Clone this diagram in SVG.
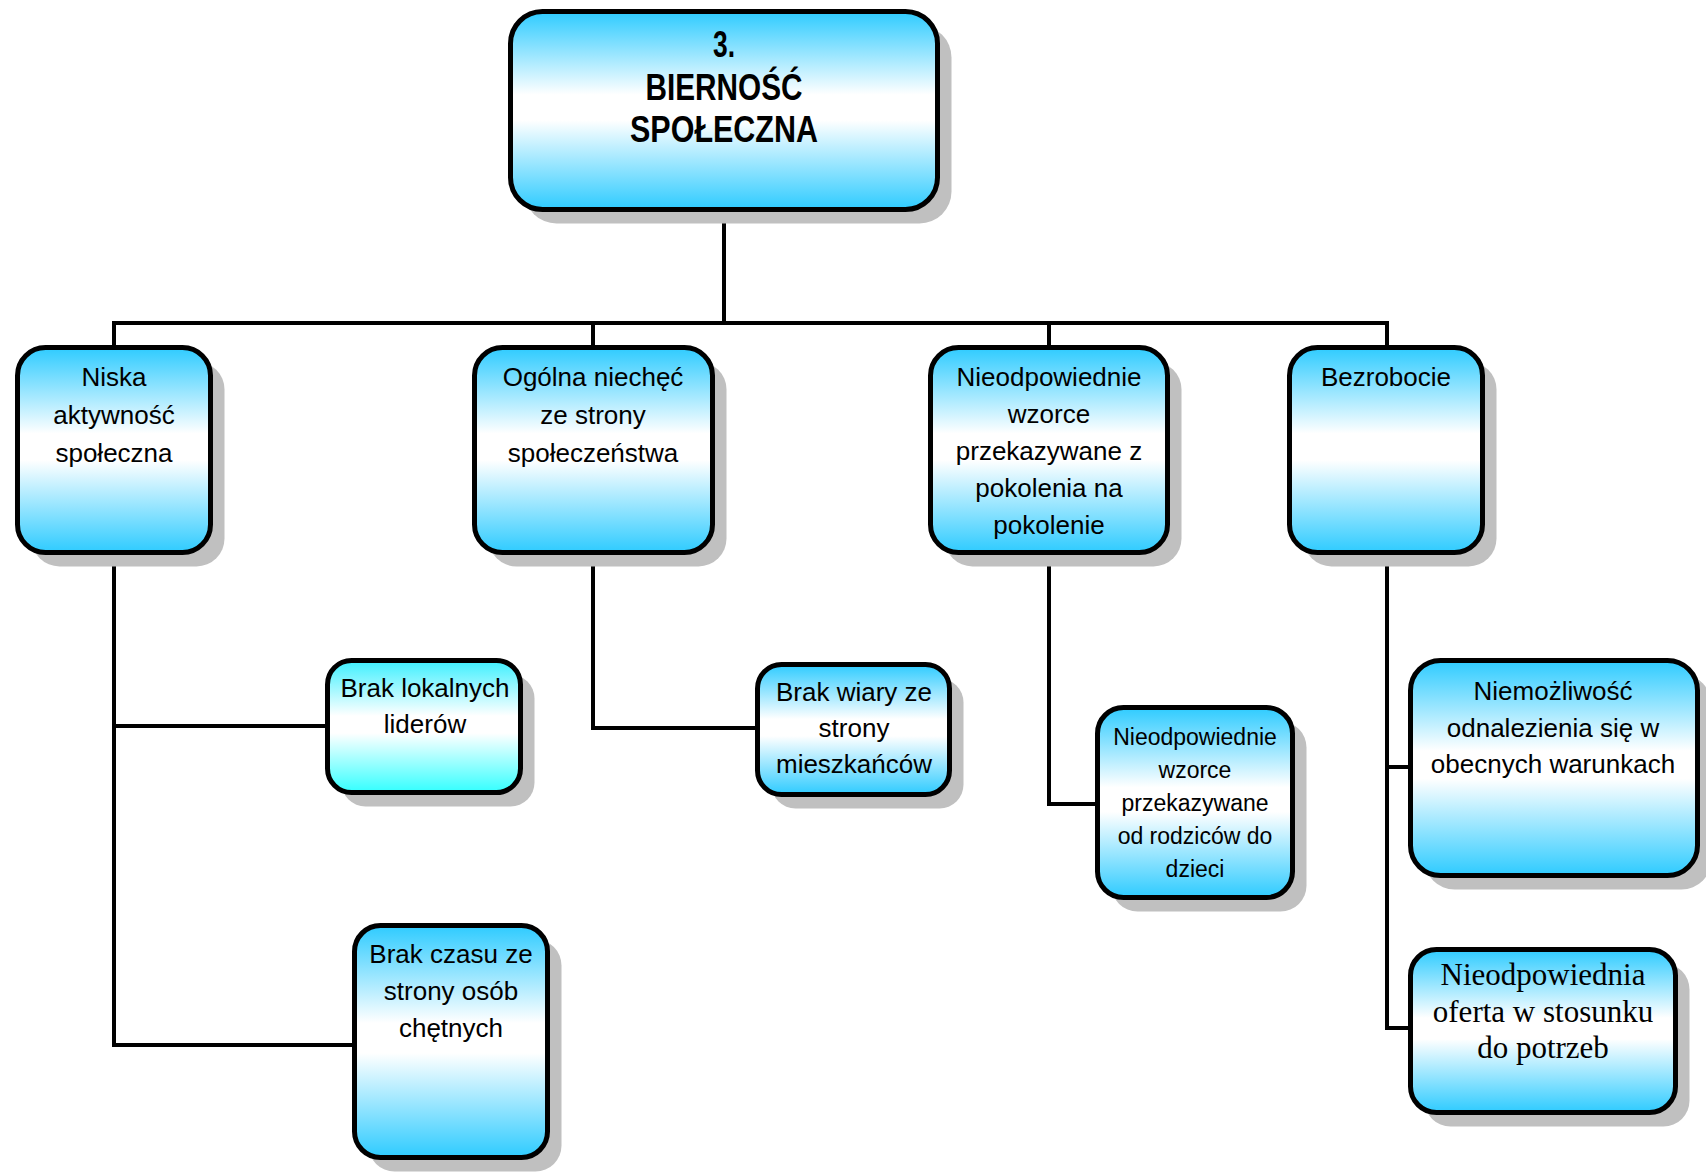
<svg xmlns="http://www.w3.org/2000/svg" width="1706" height="1176" viewBox="0 0 1706 1176">
<defs>
<linearGradient id="g" x1="0" y1="0" x2="0" y2="1">
<stop offset="0" stop-color="#2ecbff"/>
<stop offset="0.42" stop-color="#ffffff"/>
<stop offset="0.55" stop-color="#ffffff"/>
<stop offset="1" stop-color="#2ecbff"/>
</linearGradient>
<linearGradient id="ga" x1="0" y1="0" x2="0" y2="1">
<stop offset="0" stop-color="#3ef0ff"/>
<stop offset="0.42" stop-color="#ffffff"/>
<stop offset="0.55" stop-color="#ffffff"/>
<stop offset="1" stop-color="#33ffff"/>
</linearGradient>
</defs>
<style>
.box{fill:url(#g);stroke:#000;stroke-width:5}
.boxa{fill:url(#ga);stroke:#000;stroke-width:5}
.sh{fill:#c0c0c0}
.t{font-family:"Liberation Sans",Arial,sans-serif;font-size:26px;fill:#000;text-anchor:middle}
.ts{font-family:"Liberation Sans",Arial,sans-serif;font-size:23px;fill:#000;text-anchor:middle}
.tb{font-family:"Liberation Sans",Arial,sans-serif;font-size:36px;font-weight:bold;fill:#000;text-anchor:middle}
.tr{font-family:"Liberation Serif","Times New Roman",serif;font-size:31px;fill:#000;text-anchor:middle}
.c{fill:none;stroke:#000;stroke-width:4}
</style>
<rect width="1706" height="1176" fill="#fff"/>
<g id="connectors">
<path class="c" d="M724 212 V323"/>
<path class="c" d="M114 345 V323 H1387 V345"/>
<path class="c" d="M593 323 V345 M1049 323 V345"/>
<path class="c" d="M114 555 V1045 H354 M114 726 H327"/>
<path class="c" d="M593 555 V728 H757"/>
<path class="c" d="M1049 555 V804 H1097"/>
<path class="c" d="M1387 555 V1028 H1410 M1387 767 H1410"/>
</g>
<g id="n-main">
<rect class="sh" x="524.5" y="25.5" width="427" height="198" rx="32"/>
<rect class="box" x="510.5" y="11.5" width="427" height="198" rx="32"/>
<text class="tb" x="724" y="57" textLength="22" lengthAdjust="spacingAndGlyphs">3.</text>
<text class="tb" x="724" y="100" textLength="157" lengthAdjust="spacingAndGlyphs">BIERNOŚĆ</text>
<text class="tb" x="724" y="142" textLength="188" lengthAdjust="spacingAndGlyphs">SPOŁECZNA</text>
</g>
<g id="n-niska">
<rect class="sh" x="31.5" y="361.5" width="193" height="205" rx="28"/>
<rect class="box" x="17.5" y="347.5" width="193" height="205" rx="28"/>
<text class="t" x="114" y="386">Niska</text>
<text class="t" x="114" y="424">aktywność</text>
<text class="t" x="114" y="462">społeczna</text>
</g>
<g id="n-ogolna">
<rect class="sh" x="488.5" y="361.5" width="238" height="205" rx="28"/>
<rect class="box" x="474.5" y="347.5" width="238" height="205" rx="28"/>
<text class="t" x="593" y="386">Ogólna niechęć</text>
<text class="t" x="593" y="424">ze strony</text>
<text class="t" x="593" y="462">społeczeństwa</text>
</g>
<g id="n-wzorce">
<rect class="sh" x="944.5" y="361.5" width="237" height="205" rx="28"/>
<rect class="box" x="930.5" y="347.5" width="237" height="205" rx="28"/>
<text class="t" x="1049" y="386">Nieodpowiednie</text>
<text class="t" x="1049" y="423">wzorce</text>
<text class="t" x="1049" y="460">przekazywane z</text>
<text class="t" x="1049" y="497">pokolenia na</text>
<text class="t" x="1049" y="534">pokolenie</text>
</g>
<g id="n-bezrobocie">
<rect class="sh" x="1303.5" y="361.5" width="193" height="205" rx="28"/>
<rect class="box" x="1289.5" y="347.5" width="193" height="205" rx="28"/>
<text class="t" x="1386" y="386">Bezrobocie</text>
</g>
<g id="n-liderow">
<rect class="sh" x="341.5" y="674.5" width="193" height="132" rx="24"/>
<rect class="boxa" x="327.5" y="660.5" width="193" height="132" rx="24"/>
<text class="t" x="425" y="697">Brak lokalnych</text>
<text class="t" x="425" y="733">liderów</text>
</g>
<g id="n-czasu">
<rect class="sh" x="368.5" y="939.5" width="193" height="232" rx="26"/>
<rect class="box" x="354.5" y="925.5" width="193" height="232" rx="26"/>
<text class="t" x="451" y="963">Brak czasu ze</text>
<text class="t" x="451" y="1000">strony osób</text>
<text class="t" x="451" y="1037">chętnych</text>
</g>
<g id="n-wiary">
<rect class="sh" x="771.5" y="678.5" width="192" height="130" rx="24"/>
<rect class="box" x="757.5" y="664.5" width="192" height="130" rx="24"/>
<text class="t" x="854" y="701">Brak wiary ze</text>
<text class="t" x="854" y="737">strony</text>
<text class="t" x="854" y="773">mieszkańców</text>
</g>
<g id="n-rodzicow">
<rect class="sh" x="1111.5" y="721.5" width="195" height="190" rx="26"/>
<rect class="box" x="1097.5" y="707.5" width="195" height="190" rx="26"/>
<text class="ts" x="1195" y="745">Nieodpowiednie</text>
<text class="ts" x="1195" y="778">wzorce</text>
<text class="ts" x="1195" y="811">przekazywane</text>
<text class="ts" x="1195" y="844">od rodziców do</text>
<text class="ts" x="1195" y="877">dzieci</text>
</g>
<g id="n-niemozliwosc">
<rect class="sh" x="1424.5" y="674.5" width="287" height="215" rx="30"/>
<rect class="box" x="1410.5" y="660.5" width="287" height="215" rx="30"/>
<text class="t" x="1553" y="700">Niemożliwość</text>
<text class="t" x="1553" y="737">odnalezienia  się w</text>
<text class="t" x="1553" y="773">obecnych warunkach</text>
</g>
<g id="n-oferta">
<rect class="sh" x="1424.5" y="963.5" width="265" height="163" rx="26"/>
<rect class="box" x="1410.5" y="949.5" width="265" height="163" rx="26"/>
<text class="tr" x="1543" y="985">Nieodpowiednia</text>
<text class="tr" x="1543" y="1022">oferta w stosunku</text>
<text class="tr" x="1543" y="1058">do potrzeb</text>
</g>
</svg>
